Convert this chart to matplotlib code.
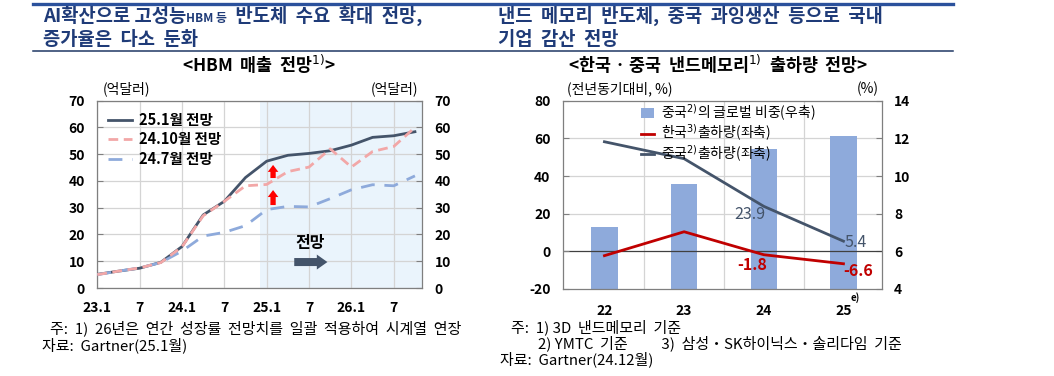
import matplotlib
matplotlib.use('Agg')
import matplotlib.pyplot as plt
from matplotlib.patches import FancyArrow, Patch
from matplotlib.lines import Line2D

plt.rcParams['font.family'] = ['Noto Sans CJK KR', 'DejaVu Sans']
plt.rcParams['axes.unicode_minus'] = False

# ---------------- data ----------------
periods = ['23.1', '23.4', '23.7', '23.10', '24.1', '24.4', '24.7', '24.10',
           '25.1', '25.4', '25.7', '25.10', '26.1', '26.4', '26.7', '26.10']
hbm_jan25 = [5.1, 6.3, 7.4, 9.6, 15.5, 27.3, 32.4, 41.3, 47.4, 49.6, 50.3, 51.3, 53.4, 56.3, 56.9, 58.4]
hbm_oct24 = [5.0, 6.3, 7.5, 9.5, 15.4, 27.0, 32.4, 38.2, 38.7, 43.5, 45.2, 52.0, 45.2, 51.0, 52.9, 60.0]
hbm_jul24 = [5.0, 6.3, 7.5, 9.5, 13.8, 19.4, 20.8, 23.3, 29.3, 30.5, 30.3, 33.4, 36.7, 38.6, 38.2, 41.9]
hbm_names = ['25.1월 전망', '24.10월 전망', '24.7월 전망']
hbm_xticklabels = ['23.1', '7', '24.1', '7', '25.1', '7', '26.1', '7']
hbm_yticks = [0, 10, 20, 30, 40, 50, 60, 70]

nand_years = ['22', '23', '24', '25']
china_share = [7.27, 9.56, 11.43, 12.12]
korea_ship = [-2.3, 10.4, -1.8, -6.6]
china_ship = [58.2, 49.2, 23.9, 5.4]
nand_names = ['중국$^{2)}$의 글로벌 비중(우축)', '한국$^{3)}$출하량(좌축)', '중국$^{2)}$출하량(좌축)']


def month_index(p):
    y, m = p.split('.')
    return (int(y) - 23) * 12 + int(m) - 1


xm = [month_index(p) for p in periods]

# ---------------- colors ----------------
TITLE_C = '#1f3b78'
DARK = '#44546a'
PINK = '#f2a7a7'
LBLUE = '#8eaadb'
RED = '#c00000'
GRID = '#d4d4d4'
SHADE = '#eaf4fc'
TICKFS = 10

W, H = 1054, 376
fig = plt.figure(figsize=(W / 100, H / 100), dpi=100)


def fx(px):
    return px / W


def fy(py):
    return 1 - py / H


# ---------------- header ----------------
fig.add_artist(Line2D([fx(33), fx(953)], [fy(4), fy(4)], color='#2b519c', lw=2.4))
fig.add_artist(Line2D([fx(33), fx(953)], [fy(51), fy(51)], color='#1f3864', lw=1.1))

renderer = fig.canvas.get_renderer()


def seq_text(x0, y, pieces):
    x = x0
    for s, size in pieces:
        t = fig.text(fx(x), fy(y), s, fontsize=size, fontweight='bold', color=TITLE_C,
                     ha='left', va='baseline')
        bb = t.get_window_extent(renderer=renderer)
        x += bb.width


seq_text(43, 22, [('AI확산으로 고성능', 13.5), ('HBM 등', 8.5), ('  반도체  수요  확대  전망,', 13.5)])
seq_text(43, 45, [('증가율은  다소  둔화', 13.5)])
seq_text(498, 22, [('낸드  메모리  반도체,  중국  과잉생산  등으로  국내', 13.5)])
seq_text(498, 45, [('기업  감산  전망', 13.5)])

fig.text(fx(259), fy(64), '<HBM  매출  전망$^{1)}$>', fontsize=12.5, fontweight='bold',
         ha='center', va='center')
fig.text(fx(718), fy(64), '<한국 · 중국  낸드메모리$^{1)}$  출하량  전망>', fontsize=12.5,
         fontweight='bold', ha='center', va='center')

# ---------------- left chart ----------------
ax1 = fig.add_axes([fx(97.3), fy(288), fx(422 - 97.3), (288 - 100.7) / H])
ax1.set_xlim(0, 46)
ax1.set_ylim(0, 70)
ax1.axvspan(23, 46, color=SHADE, zorder=0, lw=0)
ax1.set_xticks(list(range(0, 46, 6)))
ax1.set_xticklabels(hbm_xticklabels, fontweight='bold', fontsize=TICKFS)
ax1.set_yticks(hbm_yticks)
ax1.set_yticklabels([str(v) for v in hbm_yticks], fontweight='bold', fontsize=TICKFS)
ax1.grid(True, color=GRID, lw=0.9, zorder=1)
ax1.set_axisbelow(True)
ax1.tick_params(axis='both', direction='in', length=4, color='#7f7f7f')
ax1.tick_params(axis='x', pad=9, length=0)
ax1.tick_params(axis='y', pad=9)
for sp in ax1.spines.values():
    sp.set_color('#7f7f7f')
    sp.set_linewidth(0.9)

ax1r = ax1.twinx()
ax1r.set_ylim(0, 70)
ax1r.set_yticks(hbm_yticks)
ax1r.set_yticklabels([str(v) for v in hbm_yticks], fontweight='bold', fontsize=TICKFS)
ax1r.tick_params(axis='y', direction='in', length=4, color='#7f7f7f', pad=9)
for sp in ax1r.spines.values():
    sp.set_visible(False)

l1, = ax1.plot(xm, hbm_jan25, color=DARK, lw=2.0, zorder=3, label=hbm_names[0])
l3, = ax1.plot(xm, hbm_jul24, color=LBLUE, lw=2.0, dashes=(5, 3.5), zorder=4, label=hbm_names[2])
l2, = ax1.plot(xm, hbm_oct24, color=PINK, lw=2.0, dashes=(3.5, 2), zorder=5, label=hbm_names[1])

ax1.legend(handles=[l1, l2, l3], loc='upper left', bbox_to_anchor=(0.0, 1.0), frameon=False,
           prop={'weight': 'bold', 'size': 10.5}, handlelength=1.6, handletextpad=0.5,
           labelspacing=0.25, borderaxespad=0.35)

# red up arrows
ax1.add_patch(FancyArrow(24.9, 41.1, 0, 4.9, width=0.75, head_width=1.5, head_length=2.6,
                         length_includes_head=True, color='#ff0000', lw=0, zorder=6))
ax1.add_patch(FancyArrow(24.9, 31.0, 0, 5.6, width=0.75, head_width=1.5, head_length=2.6,
                         length_includes_head=True, color='#ff0000', lw=0, zorder=6))
# forecast arrow
ax1.add_patch(FancyArrow(27.9, 9.7, 4.7, 0, width=3.0, head_width=5.6, head_length=1.5,
                         length_includes_head=True, color=DARK, lw=0, zorder=6))
ax1.text(30.1, 16.8, '전망', fontsize=11.5, fontweight='bold', ha='center', va='center', zorder=6)

fig.text(fx(127), fy(89), '(억달러)', fontsize=10, ha='center', va='center')
fig.text(fx(395), fy(89), '(억달러)', fontsize=10, ha='center', va='center')

# ---------------- right chart ----------------
ax2 = fig.add_axes([fx(563), fy(289), fx(881.7 - 563), (289 - 100.7) / H])
xc = list(range(len(nand_years)))
ax2.set_xlim(-0.52, 3.48)
ax2.set_ylim(-20, 80)
ax2.set_yticks([-20, 0, 20, 40, 60, 80])
ax2.set_yticklabels(['-20', '0', '20', '40', '60', '80'], fontweight='bold', fontsize=TICKFS)
ax2.set_xticks(xc)
ax2.set_xticklabels(nand_years, fontweight='bold', fontsize=TICKFS)
ax2.tick_params(axis='x', length=0, pad=11)
ax2.tick_params(axis='y', direction='in', length=4, color='#7f7f7f', pad=9)
for sp in ax2.spines.values():
    sp.set_color('#7f7f7f')
    sp.set_linewidth(0.9)

ax2r = ax2.twinx()
ax2r.set_ylim(4, 14)
ax2r.set_yticks([4, 6, 8, 10, 12, 14])
ax2r.set_yticklabels(['4', '6', '8', '10', '12', '14'], fontweight='bold', fontsize=TICKFS)
ax2r.tick_params(axis='y', direction='in', length=4, color='#7f7f7f', pad=9)
for sp in ax2r.spines.values():
    sp.set_visible(False)

# grid lines under the bars
for yv in [20, 40, 60]:
    ax2r.axhline(4 + (yv + 20) / 10, color=GRID, lw=0.9, zorder=0)
for xv in [0.5, 1.5, 2.5]:
    ax2r.axvline(xv, color=GRID, lw=0.9, zorder=0)
bars = ax2r.bar(xc, [v - 4 for v in china_share], bottom=4, width=0.33, color=LBLUE,
                zorder=1, label=nand_names[0])

# line axis on top of the bar axis
ax2.set_zorder(ax2r.get_zorder() + 1)
ax2.patch.set_visible(False)
ax2r.patch.set_visible(True)
ax2r.patch.set_facecolor('white')
ax2.axhline(0, color='#404040', lw=0.9, zorder=1)

lk, = ax2.plot(xc, korea_ship, color=RED, lw=2.0, zorder=3, label=nand_names[1])
lc, = ax2.plot(xc, china_ship, color=DARK, lw=2.0, zorder=3, label=nand_names[2])

ax2.text(1.82, 19.3, f'{china_ship[2]:.1f}', color=DARK, fontsize=11.5, ha='center', va='center')
ax2.text(3.15, 4.6, f'{china_ship[3]:.1f}', color=DARK, fontsize=11.5, ha='center', va='center')
ax2.text(1.85, -7.2, f'{korea_ship[2]:.1f}', color=RED, fontsize=11.5, fontweight='bold',
         ha='center', va='center')
ax2.text(3.19, -10.2, f'{korea_ship[3]:.1f}', color=RED, fontsize=11.5, fontweight='bold',
         ha='center', va='center')

handles = [Patch(facecolor=LBLUE, edgecolor='none'), lk, lc]
ax2.legend(handles=handles, labels=nand_names, loc='upper left', bbox_to_anchor=(0.22, 1.035),
           frameon=False, fontsize=10, handlelength=0.9, handleheight=0.7, handletextpad=0.5,
           labelspacing=0.0, borderaxespad=0.2)

fig.text(fx(620), fy(89), '(전년동기대비, %)', fontsize=10, ha='center', va='center')
fig.text(fx(868), fy(89), '(%)', fontsize=10, ha='center', va='center')
fig.text(fx(851), fy(298), 'e)', fontsize=7, fontweight='bold', ha='left', va='center')

# ---------------- footnotes ----------------
FN = 10.8
fig.text(fx(50), fy(328), '주:  1)  26년은  연간  성장률  전망치를  일괄  적용하여  시계열  연장',
         fontsize=FN, ha='left', va='center')
fig.text(fx(42), fy(345), '자료:  Gartner(25.1월)', fontsize=FN, ha='left', va='center')
fig.text(fx(511), fy(327), '주:  1) 3D  낸드메모리  기준', fontsize=FN, ha='left', va='center')
fig.text(fx(538), fy(343), '2) YMTC  기준          3)  삼성・SK하이닉스・솔리다임  기준',
         fontsize=FN, ha='left', va='center')
fig.text(fx(500), fy(359), '자료:  Gartner(24.12월)', fontsize=FN, ha='left', va='center')

fig.savefig('out.png', dpi=100)
